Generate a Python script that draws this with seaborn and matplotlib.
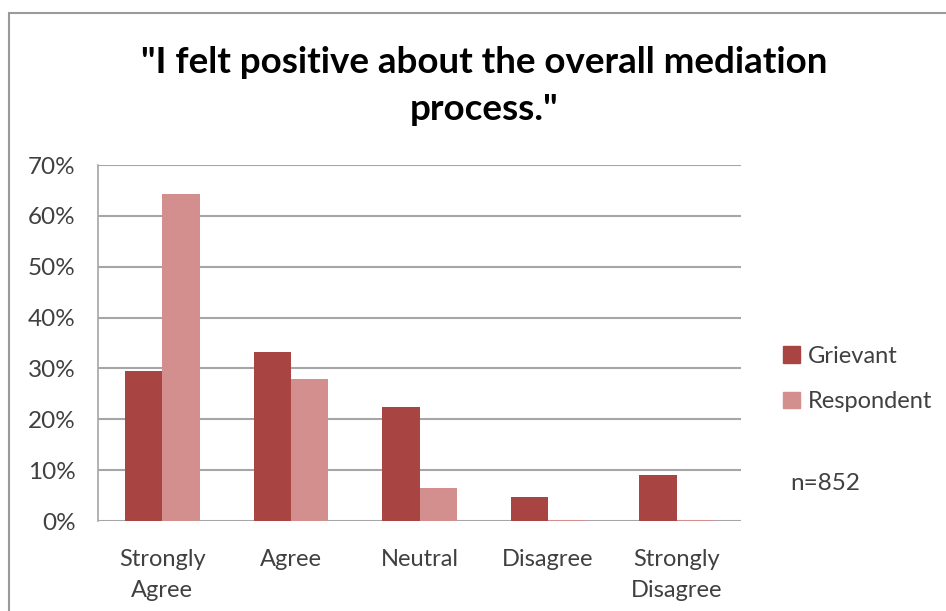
import matplotlib
matplotlib.use("Agg")
import matplotlib.pyplot as plt
import seaborn as sns
import pandas as pd
from matplotlib.patches import Rectangle
from matplotlib.lines import Line2D
from matplotlib.ticker import PercentFormatter

categories = ["Strongly\nAgree", "Agree", "Neutral", "Disagree", "Strongly\nDisagree"]
grievant = [29.5, 33.3, 22.4, 4.8, 9.1]
respondent = [64.3, 28.0, 6.5, 0.2, 0.2]
series_names = ["Grievant", "Respondent"]
yticks = [0, 10, 20, 30, 40, 50, 60, 70]
title = "\"I felt positive about the overall mediation\nprocess.\""
note = "n=852"

sns.set_theme(style="white")
plt.rcParams["font.family"] = ["Lato", "DejaVu Sans"]

df = pd.DataFrame({
    "cat": categories * 2,
    "val": grievant + respondent,
    "series": [series_names[0]] * len(categories) + [series_names[1]] * len(categories),
})

colors = {"Grievant": "#A84543", "Respondent": "#D38E8E"}

fig = plt.figure(figsize=(9.46, 6.11), dpi=100)
ax = fig.add_axes([98 / 946, 1 - 521 / 611, (741 - 98) / 946, (521 - 165) / 611])

sns.barplot(data=df, x="cat", y="val", hue="series", palette=colors, ax=ax,
            width=0.58, saturation=1, legend=False, edgecolor="none")

ax.set_ylim(0, 70)
ax.set_yticks(yticks)
ax.yaxis.set_major_formatter(PercentFormatter(decimals=0))
ax.set_xlabel("")
ax.set_ylabel("")
ax.yaxis.grid(True, color="#a6a6a6", linewidth=1.5)
ax.set_axisbelow(True)
for s in ["top", "right", "bottom"]:
    ax.spines[s].set_visible(False)
ax.spines["left"].set_color("#a6a6a6")
ax.spines["left"].set_linewidth(1.2)
ax.tick_params(axis="y", length=0, pad=16, labelsize=17.5, labelcolor="#404040")
ax.tick_params(axis="x", length=0, pad=20, labelsize=17, labelcolor="#404040")
for lbl in ax.get_xticklabels():
    lbl.set_linespacing(1.6)

fig.text(484 / 946, 1 - 86 / 611, title, ha="center", va="center",
         fontsize=26.5, fontweight="bold", color="black", linespacing=1.5)

handles = [Rectangle((0, 0), 1, 1, color=colors[n]) for n in series_names]
leg = fig.legend(handles, series_names, loc="center left",
                 bbox_to_anchor=(762 / 946, 1 - 379 / 611), frameon=False,
                 fontsize=17, handlelength=0.7, handleheight=0.7,
                 handletextpad=0.35, labelspacing=1.05, labelcolor="#404040")

fig.text(790 / 946, 1 - 483 / 611, note, ha="left", va="center",
         fontsize=17.5, color="#404040")

# chart frame (top and left edges visible)
fig.add_artist(Line2D([9 / 946, 9 / 946], [0, 1 - 13 / 611], transform=fig.transFigure,
                      color="#9a9a9a", linewidth=1.5))
fig.add_artist(Line2D([9 / 946, 1], [1 - 13 / 611, 1 - 13 / 611], transform=fig.transFigure,
                      color="#9a9a9a", linewidth=1.5))

fig.savefig("out.png", dpi=100)
